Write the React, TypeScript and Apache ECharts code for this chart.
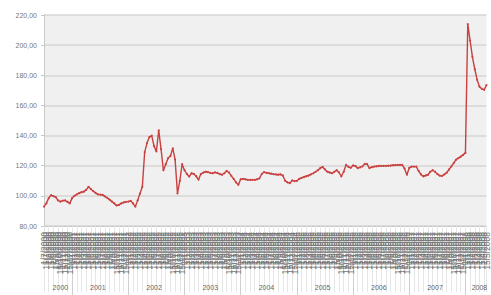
import React, { useEffect, useRef } from "react";
import * as echarts from "echarts";

// Semi-monthly observations (1st and 15th of each month), July 2000 – May 2008
const startYear = 2000;
const startMonth = 7;
const values: number[] = [
  92.8, 95, 98.5, 100.4, 99.8, 99.2, 97, 96.2, 96.8, 97, 96, 95,
  98.5, 100, 101, 101.8, 102.4, 102.8, 104, 106, 104.5, 103.2, 102, 101,
  100.8, 100.6, 99.6, 98.6, 97.5, 96.2, 95, 93.6, 94, 95, 95.6, 96,
  96.2, 96.7, 95, 92.8, 97, 101.5, 106, 129, 135, 139, 140, 133,
  129.5, 143.5, 131, 117, 121, 125, 126.5, 131.5, 124, 101.7, 110, 121,
  117, 114.5, 112.8, 115, 114.5, 113, 110.8, 114.5, 115.4, 116, 115.8, 115.2,
  115, 115.6, 115.2, 114.5, 114, 115, 116.5, 115.5, 113.3, 111.3, 109, 107.3,
  111, 111.3, 111, 110.6, 110.6, 110.6, 110.6, 111, 111.6, 114.5, 115.8, 115.3,
  115, 114.7, 114.4, 114.2, 114, 114.3, 113.5, 110, 109, 108.4, 110.3, 109.8,
  110, 111.2, 111.9, 112.5, 113, 113.5, 114.2, 115, 116, 117, 118.4, 119.2,
  117.5, 116, 115.5, 115, 116, 117, 115.5, 113, 116, 120.5, 119.3, 118.6,
  120.2, 119.8, 118.4, 118.9, 119.6, 121.2, 121, 118.4, 119, 119.4, 119.6, 119.8,
  119.9, 119.9, 119.9, 120, 120.1, 120.3, 120.4, 120.5, 120.5, 120.5, 118, 114,
  118.5, 119.4, 119.4, 119.4, 116.5, 114.2, 113, 113.5, 114, 116, 117, 116,
  114.5, 113.4, 113.2, 114.2, 115.4, 117.5, 119.6, 121.8, 124, 125, 126, 127.2,
  128.5, 214, 203, 192, 184, 177, 172.4, 171, 170.4, 173.5,
];

const yMin = 80;
const yMax = 220;
const yStep = 20;

// category labels: d/m/yyyy, two per month
const dates: string[] = [];
const years: number[] = [];
const months: number[] = [];
for (let i = 0; i < values.length; i++) {
  const mIdx = startMonth - 1 + Math.floor(i / 2);
  const y = startYear + Math.floor(mIdx / 12);
  const m = (mIdx % 12) + 1;
  const d = i % 2 === 0 ? 1 : 15;
  dates.push(`${d}/${m}/${y}`);
  years.push(y);
  months.push(m);
}

// index of the label for each year (middle of its range)
const yearLabelAt: Record<number, string> = {};
{
  const firstIdx: Record<number, number> = {};
  const lastIdx: Record<number, number> = {};
  years.forEach((y, i) => {
    if (firstIdx[y] === undefined) firstIdx[y] = i;
    lastIdx[y] = i;
  });
  Object.keys(firstIdx).forEach((k) => {
    const y = Number(k);
    const span = lastIdx[y] - firstIdx[y] + 1;
    const mid = span >= 24 ? firstIdx[y] + 11 : Math.floor((firstIdx[y] + lastIdx[y]) / 2) + 2;
    yearLabelAt[mid] = String(y);
  });
}

export default function App() {
  const ref = useRef<HTMLDivElement>(null);
  useEffect(() => {
    if (!ref.current) return;
    const chart = echarts.init(ref.current, undefined, { renderer: "svg" });
    const font = "Liberation Sans, Arial, sans-serif";
    chart.setOption({
      animation: false,
      backgroundColor: "#ffffff",
      grid: {
        left: 44,
        right: 0,
        top: 15,
        bottom: 69,
        show: true,
        backgroundColor: "#f0f0f0",
        borderWidth: 0,
      },
      xAxis: [
        {
          type: "category",
          data: dates,
          boundaryGap: false,
          position: "bottom",
          axisLine: { show: true, lineStyle: { color: "#c8c8c8", width: 1 } },
          axisTick: {
            show: true,
            interval: 1,
            length: 66,
            lineStyle: { color: "#e6e6e6", width: 1 },
          },
          axisLabel: {
            show: true,
            interval: 0,
            rotate: 90,
            margin: 6,
            fontSize: 8.5,
            color: "#777",
            fontFamily: font,
          },
          splitLine: { show: false },
        },
        {
          type: "category",
          data: dates,
          boundaryGap: false,
          position: "bottom",
          offset: 30,
          axisLine: { show: false },
          axisTick: {
            show: true,
            interval: (idx: number) => idx > 0 && months[idx] === 1 && idx % 2 === 0,
            length: 40,
            lineStyle: { color: "#cfcfcf", width: 1 },
          },
          axisLabel: {
            show: true,
            interval: 0,
            margin: 28,
            fontSize: 7,
            color: "#666",
            fontFamily: font,
            formatter: (_v: string, idx: number) => yearLabelAt[idx] ?? "",
          },
          splitLine: { show: false },
        },
      ],
      yAxis: {
        type: "value",
        min: yMin,
        max: yMax,
        interval: yStep,
        axisLine: { show: true, lineStyle: { color: "#c8c8c8" } },
        axisTick: { show: true, length: 3, lineStyle: { color: "#c8c8c8" } },
        axisLabel: {
          fontSize: 7,
          color: "#777",
          margin: 7,
          fontFamily: font,
          formatter: (v: number) => v.toFixed(2).replace(".", ","),
        },
        splitLine: { show: true, lineStyle: { color: "#d6d6d6", width: 1.5 } },
      },
      series: [
        {
          type: "line",
          data: values,
          xAxisIndex: 0,
          symbol: "circle",
          symbolSize: 2,
          showSymbol: true,
          lineStyle: { color: "#c9403f", width: 1.4 },
          itemStyle: { color: "#c9403f" },
        },
      ],
    });
    return () => chart.dispose();
  }, []);
  return (
    <div
      ref={ref}
      style={{ position: "fixed", left: 0, top: 0, width: 491, height: 295 }}
    />
  );
}
